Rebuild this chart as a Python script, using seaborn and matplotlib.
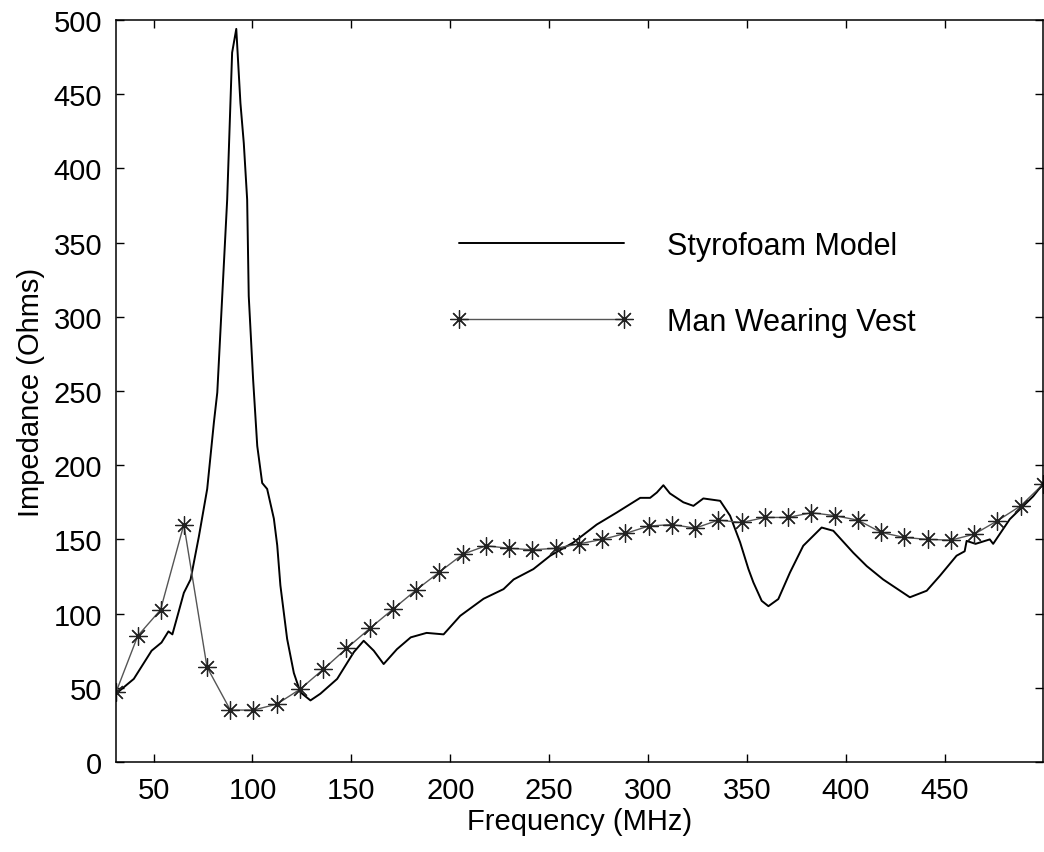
import numpy as np
import pandas as pd
import matplotlib
matplotlib.use("Agg")
import matplotlib.pyplot as plt
import seaborn as sns

# -------------------------------------------------
# Data
# -------------------------------------------------

# Styrofoam model, traced curve (MHz, Ohms)
styro_freq = [31, 40, 49, 54, 57.5, 59.5, 62, 65.3, 68.7, 72.9, 77.1, 80.5, 82.2,
              84.7, 87.2, 89.7, 91.8, 93.9, 95.6, 97.3, 98.1, 100.3, 102.4, 104.9,
              107.4, 110.8, 112.5, 114.1, 117.5, 120.9, 124.2, 129.3, 134.3, 142.8,
              151.2, 156.2, 161.3, 166.3, 173, 180, 188, 196.6, 205, 216.8, 226.9,
              232, 242, 250.5, 262.3, 274, 284, 296, 301, 304.4, 307.7, 311, 317.8,
              322.9, 327.9, 336.4, 341.4, 346.5, 350.7, 353.2, 357.4, 360.8, 365.8,
              371.7, 378.4, 387.7, 393.6, 403.7, 410.5, 418.8, 432.3, 440.8, 447.5,
              455.9, 460, 461, 465.5, 472.7, 474.4, 482.8, 494.6, 500]
styro_imp = [46, 56, 75, 80.5, 88, 86, 98, 114, 123, 152, 184, 229, 249,
             314, 379, 478, 494, 444, 417, 379, 314, 258, 213, 188,
             184, 164, 146, 119, 83, 60, 47, 41.5, 46, 56,
             74, 81.7, 75, 66, 76, 84, 87, 86, 98.5, 110, 116.5,
             123, 130, 139, 148, 160, 168, 178, 178, 181.6, 186.5, 181, 175,
             172.6, 177.6, 176, 166, 148, 130, 121, 108.6, 105, 109.8,
             127.7, 145.7, 158, 155.8, 141, 132, 123, 111, 115.4, 125.5,
             139, 142, 149, 147, 150, 147, 163.6, 179, 188]

# Man wearing vest, measured points (markers)
vest_freq = [31, 42, 53.5, 65.3, 77, 88.8, 100.5, 112.3, 124, 135.8, 147.5, 159.3,
             171, 182.8, 194.5, 206.3, 218, 229.8, 241.5, 253.3, 265, 276.8, 288.5,
             300.3, 312, 323.8, 335.5, 347.3, 359, 370.8, 382.5, 394.3, 406, 417.8,
             429.5, 441.3, 453, 464.8, 476.5, 488.3, 499.5]
vest_imp = [47, 85, 102.5, 160, 64, 35, 35, 39, 49, 62.5, 76.5, 90,
            103, 116, 128, 140, 145.7, 144, 143, 144, 147, 150, 154,
            159, 160, 157.6, 163, 161.4, 164.8, 164.8, 168, 166, 163, 154.7,
            151.3, 150, 149.5, 153.5, 162.5, 172.6, 187]

x_ticks = [50, 100, 150, 200, 250, 300, 350, 400, 450]
y_ticks = list(range(0, 501, 50))

styro = pd.DataFrame({"freq": styro_freq, "imp": styro_imp})
vest = pd.DataFrame({"freq": vest_freq, "imp": vest_imp})

# -------------------------------------------------
# Figure
# -------------------------------------------------

sns.set_style("ticks")
plt.rcParams["font.family"] = ["Liberation Sans", "DejaVu Sans"]
plt.rcParams["text.color"] = "black"
plt.rcParams["axes.labelcolor"] = "black"
plt.rcParams["xtick.color"] = "black"
plt.rcParams["ytick.color"] = "black"

W, H = 1044, 853
fig = plt.figure(figsize=(W / 100, H / 100), dpi=100)
ax = fig.add_axes([116 / W, (H - 763) / H, (1043 - 116) / W, (763 - 21) / H])

sns.lineplot(data=styro, x="freq", y="imp", ax=ax, color="black", lw=1.4,
             sort=False, estimator=None, label="Styrofoam Model")
sns.lineplot(data=vest, x="freq", y="imp", ax=ax, color="#555555", lw=1.0,
             marker=(8, 2, 0), markersize=13, markeredgewidth=0.9,
             markeredgecolor="#222222", sort=False, estimator=None,
             label="Man Wearing Vest")

ax.set_xlim(31, 499.6)
ax.set_ylim(0, 500)
ax.set_xticks(x_ticks)
ax.set_yticks(y_ticks)

ax.tick_params(direction="in", top=True, right=True, length=6, width=1.0,
               labelsize=21, pad=10, color="black", labelcolor="black")
for sp in ax.spines.values():
    sp.set_visible(True)
    sp.set_linewidth(1.1)
    sp.set_color("black")

ax.set_xlabel("Frequency (MHz)", fontsize=21, labelpad=2, color="black")
ax.set_ylabel("Impedance (Ohms)", fontsize=21, labelpad=6, color="black")

leg = ax.legend(loc="center left", bbox_to_anchor=((450 - 116) / 927, (763 - 285) / 742),
                frameon=False, fontsize=22, numpoints=2, handlelength=6.0,
                handletextpad=1.1, labelspacing=1.5, borderpad=0, borderaxespad=0)
for t in leg.get_texts():
    t.set_color("black")

fig.savefig("out.png", dpi=100)
plt.close(fig)
